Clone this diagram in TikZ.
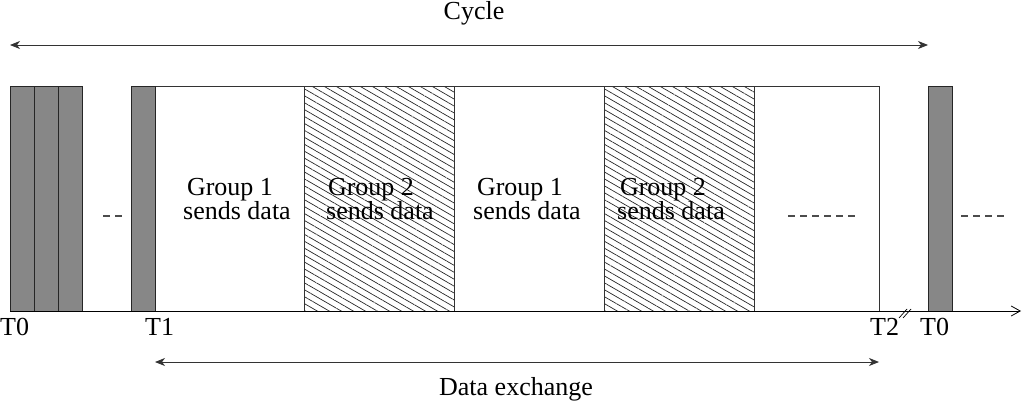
\documentclass[tikz,border=0pt]{standalone}
\usepackage{fontspec}
\setmainfont{Liberation Serif}
\usetikzlibrary{arrows.meta,patterns.meta}
\begin{document}
\begin{tikzpicture}[x=1pt,y=-1pt,
  slot/.style={draw=black!85,line width=0.9pt,fill=gray!95!black!90},
  frame/.style={draw=black!80,line width=0.7pt},
  hatch/.style={frame,pattern={Lines[angle=-30,distance=6pt,line width=0.7pt]},pattern color=black!85},
  lbl/.style={font=\fontsize{26}{26}\selectfont,inner sep=0pt,anchor=base west},
  txt/.style={font=\fontsize{26}{26}\selectfont,inner sep=0pt,anchor=base},
  grp/.style={font=\fontsize{26}{22}\selectfont,inner sep=0pt,align=center,anchor=center},
  dots/.style={line width=1.2pt,dash pattern=on 7pt off 5pt,draw=black!70},
  arr/.style={line width=0.9pt,draw=black!80}]
\useasboundingbox (0,0) rectangle (1024,405);
% big frame
\draw[frame] (155,86) rectangle (879,311);
\draw[hatch] (304,86) rectangle (454,311);
\draw[hatch] (604,86) rectangle (754,311);
\draw[frame] (754,86) -- (754,311);
% gray slots
\draw[slot] (10,86) rectangle (34,311);
\draw[slot] (34,86) rectangle (58,311);
\draw[slot] (58,86) rectangle (82,311);
\draw[slot] (131,86) rectangle (155,311);
\draw[slot] (928,86) rectangle (952,311);
% axis
\coordinate (a0) at (10,311);
\coordinate (a1) at (1021,311);
\draw[line width=0.8pt,-{Straight Barb[length=9pt,width=10pt]}] (a0) -- (a1);
\coordinate (b1) at (899,318);
\coordinate (b2) at (907,309);
\coordinate (b3) at (903,318);
\coordinate (b4) at (911,309);
\draw[line width=0.7pt] (b1) -- (b2);
\draw[line width=0.7pt] (b3) -- (b4);
% labels
\node[lbl] (t0) at (0,335) {T0};
\node[lbl] (t1) at (145,335) {T1};
\node[lbl] (t2) at (870,335) {T2};
\node[lbl] (t0b) at (920,335) {T0};
% group texts
\node[grp] (g1) at (230,199) {Group 1\\\hspace*{14pt}sends data};
\node[grp] (g2) at (371,199) {Group 2\\\hspace*{18pt}sends data};
\node[grp] (g3) at (520,199) {Group 1\\\hspace*{14pt}sends data};
\node[grp] (g4) at (663,199) {Group 2\\\hspace*{16pt}sends data};
% dashes
\coordinate (d1a) at (103,216); \coordinate (d1b) at (123,216);
\coordinate (d2a) at (788,216); \coordinate (d2b) at (858,216);
\coordinate (d3a) at (961,216); \coordinate (d3b) at (1008,216);
\draw[dots] (d1a) -- (d1b);
\draw[dots] (d2a) -- (d2b);
\draw[dots] (d3a) -- (d3b);
% cycle arrow
\coordinate (c0) at (10,45);
\coordinate (c1) at (928,45);
\draw[arr,{Stealth[length=10pt,width=8pt,inset=3pt]}-{Stealth[length=10pt,width=8pt,inset=3pt]}] (c0) -- (c1);
\node[txt] (cyc) at (474,19) {Cycle};
% data exchange arrow
\coordinate (e0) at (155,362);
\coordinate (e1) at (879,362);
\draw[arr,{Stealth[length=10pt,width=8pt,inset=3pt]}-{Stealth[length=10pt,width=8pt,inset=3pt]}] (e0) -- (e1);
\node[txt] (dex) at (516,395) {Data exchange};
\end{tikzpicture}
\end{document}
